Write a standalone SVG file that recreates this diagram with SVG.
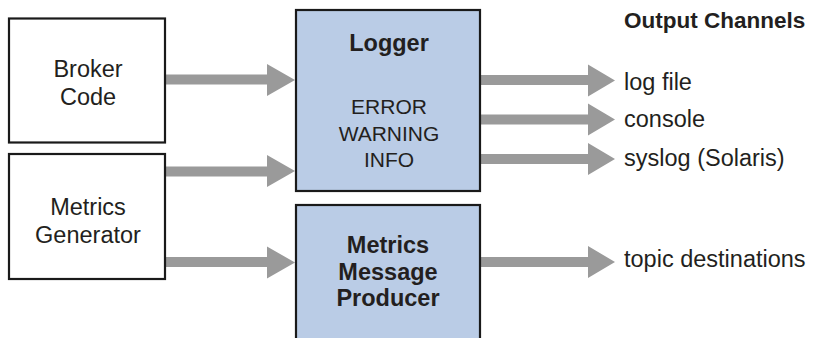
<svg xmlns="http://www.w3.org/2000/svg" width="818" height="338" viewBox="0 0 818 338">
<style>
.box{fill:#ffffff;stroke:#1a1a1a;stroke-width:2.2}
.proc{fill:#bacce6;stroke:#1a1a1a;stroke-width:2.2}
.arrow{fill:#9a9a9a;stroke:none}
text{font-family:"Liberation Sans",Arial,Helvetica,sans-serif;fill:#231f20}
.lbl{font-size:23.5px;text-anchor:middle}
.bold{font-size:23.5px;font-weight:bold;text-anchor:middle}
.lvl{font-size:21px;text-anchor:middle}
.out{font-size:23.5px}
.hdr{font-size:22.5px;font-weight:bold}
</style>
<rect width="818" height="338" fill="#ffffff"/>
<g id="connectors">
<polygon class="arrow" points="165,74.5 267,74.5 267,64 295,80 267,96 267,84.5 165,84.5"/>
<polygon class="arrow" points="165,166.5 267,166.5 267,155 295,171 267,187 267,176.5 165,176.5"/>
<polygon class="arrow" points="165,257 267,257 267,246.5 295,262.5 267,278.5 267,267 165,267"/>
<polygon class="arrow" points="480,75 588,75 588,64.5 615,80.5 588,96.5 588,85 480,85"/>
<polygon class="arrow" points="480,114.5 588,114.5 588,103.5 615,119.5 588,135.5 588,124.5 480,124.5"/>
<polygon class="arrow" points="480,154 588,154 588,143 615,159 588,175 588,164 480,164"/>
<polygon class="arrow" points="480,257 588,257 588,246 615,262 588,278 588,267 480,267"/>
</g>
<g id="broker">
<rect class="box" x="9" y="18.5" width="156" height="124"/>
<text class="lbl" x="88" y="77">Broker</text>
<text class="lbl" x="88" y="105">Code</text>
</g>
<g id="metrics-generator">
<rect class="box" x="9" y="154" width="156" height="125"/>
<text class="lbl" x="88" y="215">Metrics</text>
<text class="lbl" x="88" y="243">Generator</text>
</g>
<g id="logger">
<rect class="proc" x="296" y="10" width="184" height="181"/>
<text class="bold" x="389" y="51">Logger</text>
<text class="lvl" x="389" y="114">ERROR</text>
<text class="lvl" x="389" y="140.5">WARNING</text>
<text class="lvl" x="389" y="167">INFO</text>
</g>
<g id="producer">
<rect class="proc" x="296" y="205" width="184" height="150"/>
<text class="bold" x="388" y="253">Metrics</text>
<text class="bold" x="388" y="280">Message</text>
<text class="bold" x="388" y="306">Producer</text>
</g>
<g id="outputs">
<text class="hdr" x="624" y="28">Output Channels</text>
<text class="out" x="624" y="90">log file</text>
<text class="out" x="624" y="127">console</text>
<text class="out" x="624" y="166">syslog (Solaris)</text>
<text class="out" x="624" y="267">topic destinations</text>
</g>
</svg>
